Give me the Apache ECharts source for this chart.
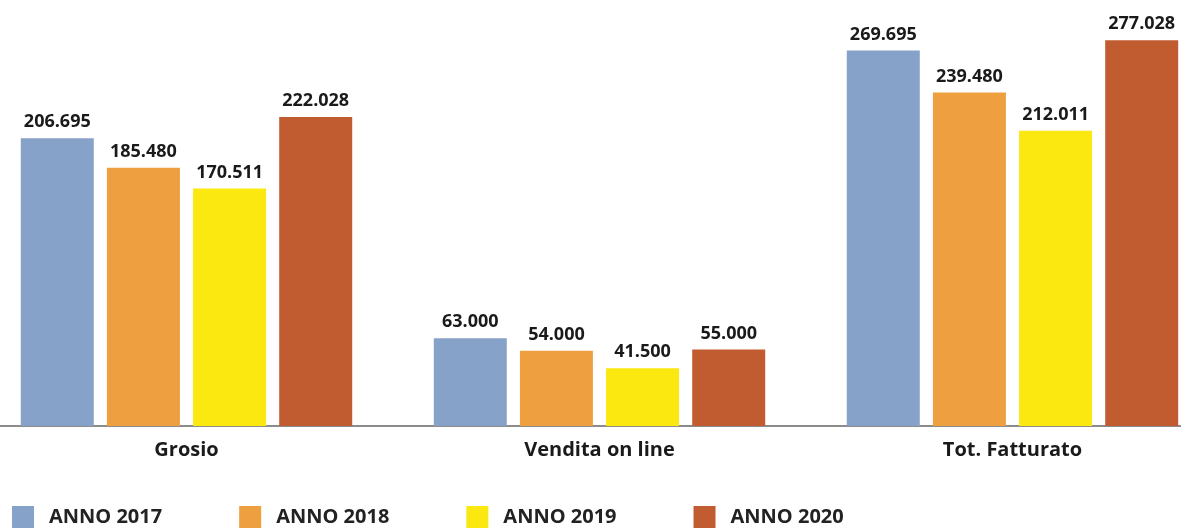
<!DOCTYPE html>
<html>
<head>
<meta charset="utf-8">
<script src="https://cdn.jsdelivr.net/npm/echarts@6/dist/echarts.min.js"></script>
<style>
  html, body { margin: 0; padding: 0; background: #fff; }
  #chart { width: 1181px; height: 528px; }
</style>
</head>
<body>
<div id="chart"></div>
<script>
  const categories = ['Grosio', 'Vendita on line', 'Tot. Fatturato']
  const seriesNames = ['ANNO 2017', 'ANNO 2018', 'ANNO 2019', 'ANNO 2020']
  const anno2017 = [206695, 63000, 269695]
  const anno2018 = [185480, 54000, 239480]
  const anno2019 = [170511, 41500, 212011]
  const anno2020 = [222028, 55000, 277028]
  const colors = ['#87a2c8', '#eea040', '#fae810', '#c15b30']

  const fontFamily = '"Open Sans", "Noto Sans", sans-serif'

  // formats 206695 -> 206.695 (italian thousands separator)
  function fmt(v) {
    return String(v).replace(/\B(?=(\d{3})+(?!\d))/g, '.')
  }

  const chart = echarts.init(document.getElementById('chart'), null, { renderer: 'canvas' })

  const seriesData = [anno2017, anno2018, anno2019, anno2020]

  chart.setOption({
    animation: false,
    color: colors,
    legend: {
      data: seriesNames,
      left: 12,
      top: 506,
      padding: 0,
      itemWidth: 22,
      itemHeight: 22,
      itemGap: 77,
      icon: 'rect',
      textStyle: {
        fontFamily: fontFamily,
        fontWeight: 'bold',
        fontSize: 20,
        color: '#222',
        padding: [0, 0, 0, 10]
      }
    },
    grid: {
      left: -20,
      top: 0,
      width: 1239,
      height: 426,
      outerBoundsMode: 'none',
      containLabel: false
    },
    xAxis: {
      type: 'category',
      data: categories,
      axisLine: { lineStyle: { color: '#8c8c8c', width: 2 } },
      axisTick: { show: false },
      axisLabel: {
        margin: 14,
        fontFamily: fontFamily,
        fontWeight: 'bold',
        fontSize: 20,
        color: '#1a1a1a'
      }
    },
    yAxis: {
      type: 'value',
      min: 0,
      max: 306000,
      show: false,
      splitLine: { show: false }
    },
    series: seriesNames.map((name, i) => ({
      name: name,
      type: 'bar',
      data: seriesData[i],
      barWidth: 73,
      barGap: '18%',
      label: {
        show: true,
        position: 'top',
        distance: 7,
        formatter: p => fmt(p.value),
        fontFamily: fontFamily,
        fontWeight: 'bold',
        fontSize: 18,
        color: '#1a1a1a'
      }
    }))
  })
</script>
</body>
</html>
